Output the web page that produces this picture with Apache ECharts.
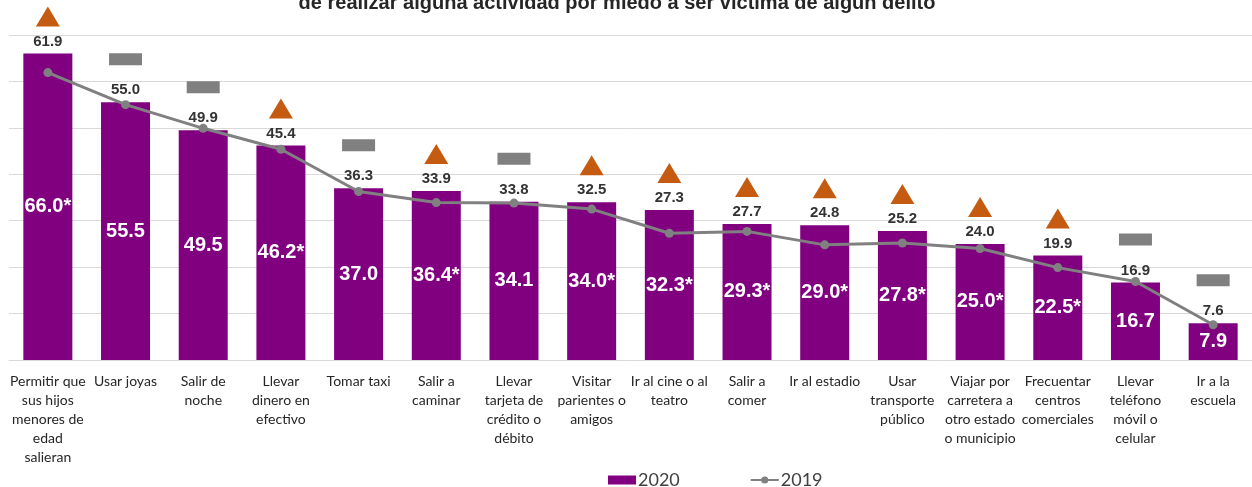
<!DOCTYPE html>
<html>
<head>
<meta charset="utf-8">
<script src="https://cdn.jsdelivr.net/npm/echarts@6/dist/echarts.min.js"></script>
<style>
html,body{margin:0;padding:0;background:#fff;}
#chart{width:1252px;height:487px;}
</style>
</head>
<body>
<div id="chart"></div>
<script>
const titleText = 'de realizar alguna actividad por miedo a ser víctima de algún delito';
const categories = [
  'Permitir que\nsus hijos\nmenores de\nedad\nsalieran',
  'Usar joyas',
  'Salir de\nnoche',
  'Llevar\ndinero en\nefectivo',
  'Tomar taxi',
  'Salir a\ncaminar',
  'Llevar\ntarjeta de\ncrédito o\ndébito',
  'Visitar\nparientes o\namigos',
  'Ir al cine o al\nteatro',
  'Salir a\ncomer',
  'Ir al estadio',
  'Usar\ntransporte\npúblico',
  'Viajar por\ncarretera a\notro estado\no municipio',
  'Frecuentar\ncentros\ncomerciales',
  'Llevar\nteléfono\nmóvil o\ncelular',
  'Ir a la\nescuela'
];
const values2020 = [66.0, 55.5, 49.5, 46.2, 37.0, 36.4, 34.1, 34.0, 32.3, 29.3, 29.0, 27.8, 25.0, 22.5, 16.7, 7.9];
const values2019 = [61.9, 55.0, 49.9, 45.4, 36.3, 33.9, 33.8, 32.5, 27.3, 27.7, 24.8, 25.2, 24.0, 19.9, 16.9, 7.6];
// 'up' = statistically significant increase (marked with * and triangle), 'same' = no significant change
const change = ['up','same','same','up','same','up','same','up','up','up','up','up','up','up','same','same'];
const seriesNames = ['2020', '2019'];

const chart = echarts.init(document.getElementById('chart'));

const markerData = values2020.map((v, i) => {
  const up = change[i] === 'up';
  return {
    value: v,
    symbol: up ? 'triangle' : 'rect',
    symbolSize: up ? [24, 20] : [33, 12],
    symbolOffset: up ? [0, -37] : [0, -43],
    itemStyle: { color: up ? '#C55A11' : '#808080', opacity: 1 }
  };
});

chart.setOption({
  animation: false,
  backgroundColor: '#ffffff',
  graphic: [{
    type: 'text',
    x: 617,
    y: 3.5,
    style: {
      text: titleText,
      align: 'center',
      verticalAlign: 'middle',
      fill: '#262626',
      font: 'bold 20px "Liberation Sans", Arial, sans-serif'
    }
  }],
  legend: {
    left: 603,
    top: 466,
    itemWidth: 28,
    itemHeight: 9,
    itemGap: 70,
    data: [
      { name: seriesNames[0], icon: 'rect' },
      { name: seriesNames[1] }
    ],
    textStyle: { fontFamily: 'Lato', fontSize: 18, color: '#404040', padding: [0, 0, 0, -3] }
  },
  grid: { left: 9, top: 35, width: 1257, height: 325, containLabel: false },
  xAxis: {
    type: 'category',
    data: categories,
    axisTick: { show: false },
    axisLine: { lineStyle: { color: '#d9d9d9', width: 1 } },
    axisLabel: {
      interval: 0,
      margin: 12,
      fontFamily: 'Lato',
      fontSize: 14,
      lineHeight: 19,
      color: '#262626',
      align: 'center'
    }
  },
  yAxis: {
    type: 'value',
    min: 0,
    max: 70,
    interval: 10,
    axisLabel: { show: false },
    axisLine: { show: false },
    axisTick: { show: false },
    splitLine: { lineStyle: { color: '#d9d9d9', width: 1 } }
  },
  series: [
    {
      name: seriesNames[0],
      type: 'bar',
      data: values2020,
      barWidth: 49,
      itemStyle: { color: '#800080' },
      label: {
        show: true,
        position: 'inside',
        color: '#ffffff',
        fontFamily: '"Liberation Sans", Arial, sans-serif',
        fontWeight: 'bold',
        fontSize: 20,
        formatter: p => p.value.toFixed(1) + (change[p.dataIndex] === 'up' ? '*' : '')
      },
      z: 2
    },
    {
      name: seriesNames[1],
      type: 'line',
      data: values2019,
      symbol: 'circle',
      symbolSize: 9,
      lineStyle: { color: '#808080', width: 3 },
      itemStyle: { color: '#808080' },
      z: 4
    },
    {
      name: 'labels2019',
      type: 'scatter',
      data: values2020,
      symbolSize: 1,
      itemStyle: { color: 'rgba(0,0,0,0)', opacity: 1 },
      label: {
        show: true,
        position: 'top',
        distance: 4,
        color: '#333333',
        fontFamily: '"Liberation Sans", Arial, sans-serif',
        fontWeight: 'bold',
        fontSize: 15,
        formatter: p => values2019[p.dataIndex].toFixed(1)
      },
      z: 5,
      silent: true
    },
    {
      name: 'markers',
      type: 'scatter',
      data: markerData,
      z: 5,
      silent: true
    }
  ]
});
</script>
</body>
</html>
